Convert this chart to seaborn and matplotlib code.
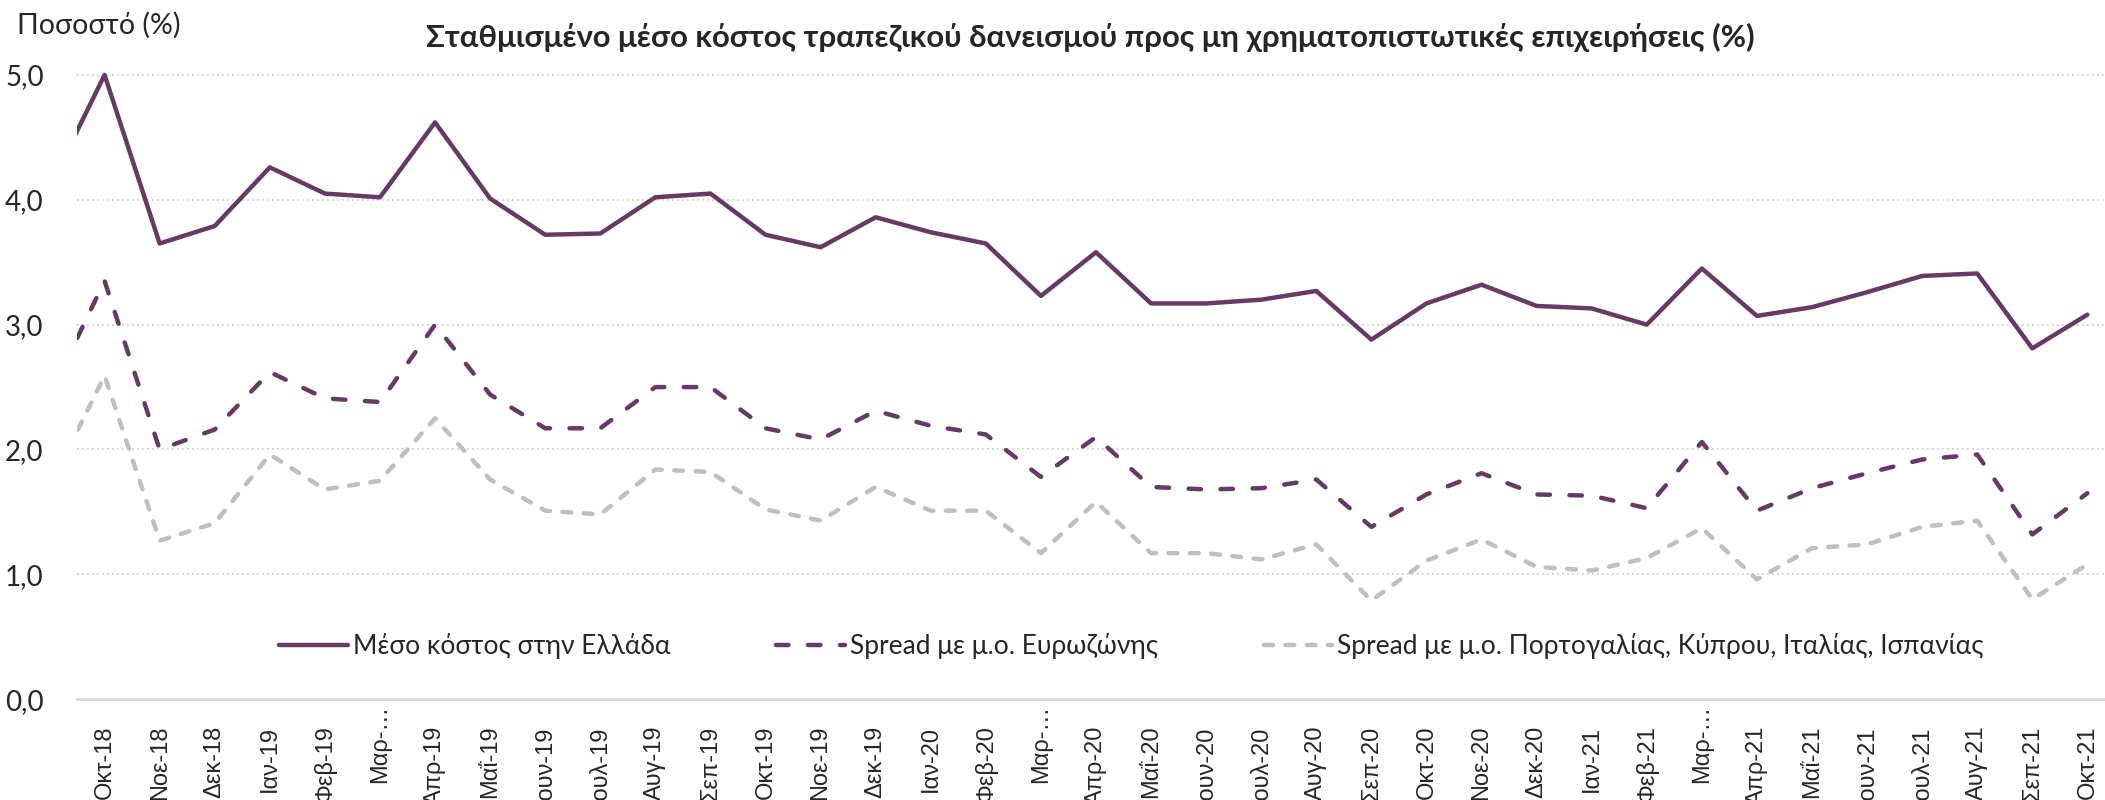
import numpy as np
import pandas as pd
import matplotlib
matplotlib.use("Agg")
import matplotlib.pyplot as plt
import seaborn as sns

# --- DADOS ---
# o primeiro mes (Σεπ-18) fica fora da area visivel, so a linha entra pela esquerda
months = ["Σεπ-18", "Οκτ-18", "Νοε-18", "Δεκ-18", "Ιαν-19", "Φεβ-19", "Μαρ-…", "Απρ-19",
          "Μαΐ-19", "Ιουν-19", "Ιουλ-19", "Αυγ-19", "Σεπ-19", "Οκτ-19", "Νοε-19", "Δεκ-19",
          "Ιαν-20", "Φεβ-20", "Μαρ-…", "Απρ-20", "Μαΐ-20", "Ιουν-20", "Ιουλ-20", "Αυγ-20",
          "Σεπ-20", "Οκτ-20", "Νοε-20", "Δεκ-20", "Ιαν-21", "Φεβ-21", "Μαρ-…", "Απρ-21",
          "Μαΐ-21", "Ιουν-21", "Ιουλ-21", "Αυγ-21", "Σεπ-21", "Οκτ-21"]

greece = [4.10, 5.00, 3.65, 3.79, 4.26, 4.05, 4.02, 4.62, 4.01, 3.72, 3.73, 4.02, 4.05,
          3.72, 3.62, 3.86, 3.74, 3.65, 3.23, 3.58, 3.17, 3.17, 3.20, 3.27, 2.88, 3.17,
          3.32, 3.15, 3.13, 3.00, 3.45, 3.07, 3.14, 3.26, 3.39, 3.41, 2.81, 3.08]

spread_ez = [2.43, 3.35, 2.00, 2.16, 2.62, 2.41, 2.38, 3.00, 2.44, 2.17, 2.17, 2.50, 2.50,
             2.17, 2.08, 2.31, 2.19, 2.12, 1.78, 2.10, 1.70, 1.68, 1.69, 1.76, 1.38, 1.64,
             1.81, 1.64, 1.63, 1.53, 2.06, 1.51, 1.69, 1.81, 1.92, 1.96, 1.32, 1.65]

spread_south = [1.70, 2.59, 1.27, 1.41, 1.96, 1.68, 1.75, 2.25, 1.76, 1.51, 1.48, 1.84, 1.82,
                1.52, 1.43, 1.70, 1.51, 1.51, 1.17, 1.58, 1.17, 1.17, 1.12, 1.24, 0.79, 1.11,
                1.28, 1.06, 1.03, 1.13, 1.37, 0.96, 1.21, 1.24, 1.38, 1.43, 0.80, 1.08]

series_names = ["Μέσο κόστος στην Ελλάδα",
                "Spread με μ.ο. Ευρωζώνης",
                "Spread με μ.ο. Πορτογαλίας, Κύπρου, Ιταλίας, Ισπανίας"]

PURPLE = "#673A66"
GREY = "#BFBFBF"

sns.set_theme(style="white")
plt.rcParams["font.family"] = ["Lato", "DejaVu Sans"]

df = pd.DataFrame({
    "pos": np.arange(len(months)),
    series_names[0]: greece,
    series_names[1]: spread_ez,
    series_names[2]: spread_south,
})

fig = plt.figure(figsize=(21.05, 8), dpi=100)
ax = fig.add_axes([0.0366, 0.126, 0.9634, 0.785])

# (nome, cor, padrao de tracejado em unidades de espessura)
estilos = [
    (series_names[0], PURPLE, "-"),
    (series_names[1], PURPLE, (0, (2.8, 4.4))),
    (series_names[2], GREY, (0, (2.0, 2.8))),
]
for nome, cor, ls in estilos:
    sns.lineplot(data=df, x="pos", y=nome, ax=ax, color=cor, linewidth=3.2, label=nome)
    ln = ax.get_lines()[-1]
    ln.set_linestyle(ls)
    ln.set_dash_capstyle("round")
    ln.set_solid_capstyle("round")

ax.set_yticks(np.arange(0, 6, 1))
ax.set_yticklabels([f"{v:.1f}".replace(".", ",") for v in np.arange(0, 6, 1)], fontsize=20)
ax.set_xticks(df["pos"])
ax.set_xticklabels(months, rotation=90, fontsize=17, family=["Liberation Sans", "DejaVu Sans"],
                   va="top", ha="center")
ax.set_xlim(0.5, 37.32)
ax.set_ylim(0, 5.03)
ax.tick_params(axis="x", length=0, pad=19)
ax.tick_params(axis="y", length=0, pad=24)
for t, lab in zip(ax.xaxis.get_major_ticks(), months):
    if lab.startswith("Μαρ"):
        t.set_pad(4)
ax.set_xlabel("")
ax.set_ylabel("")

# grelha pontilhada
for v in range(1, 6):
    ax.axhline(v, color="#C8C8C8", linestyle=(0, (1, 2)), linewidth=1.2, zorder=0)
for s in ["top", "right", "left"]:
    ax.spines[s].set_visible(False)
ax.spines["bottom"].set_color("#D9D9D9")
ax.spines["bottom"].set_linewidth(2)

leg = ax.legend(loc="center", bbox_to_anchor=(0.520, 0.084), ncol=3, frameon=False,
                fontsize=19, handlelength=2.6, handletextpad=0.2, columnspacing=4.0)

fig.text(0.518, 0.953, "Σταθμισμένο μέσο κόστος τραπεζικού δανεισμού προς μη χρηματοπιστωτικές επιχειρήσεις (%)",
         ha="center", va="center", fontsize=22.3, fontweight="bold")
fig.text(0.008, 0.969, "Ποσοστό (%)", ha="left", va="center", fontsize=20.5)

fig.savefig("out.png", dpi=100)
